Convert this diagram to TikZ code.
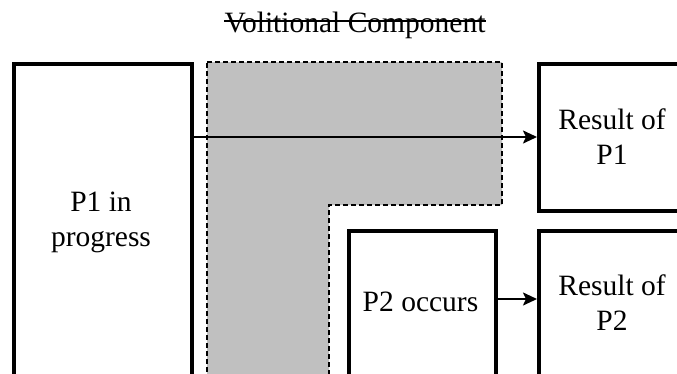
\documentclass[tikz,border=0pt]{standalone}
\usepackage{fontspec}
\setmainfont{Liberation Serif}
\usetikzlibrary{arrows.meta}
\definecolor{volgray}{RGB}{192,192,192}
\begin{document}
\begin{tikzpicture}[x=1pt,y=-1pt,
  box/.style={draw, line width=4.2pt, rectangle, inner sep=0pt, anchor=north west},
  lbl/.style={font=\fontsize{29.5}{35}\selectfont, align=center, inner sep=0pt},
  conn/.style={line width=2pt, -{Stealth[length=14pt,width=13pt,inset=3pt]}},
  vol/.style={fill=volgray, draw=black, line width=2.2pt, dash pattern=on 5pt off 3pt}]
\useasboundingbox (0,0) rectangle (677,373);
\clip (0,0) rectangle (677,373);
% volitional component region
\draw[vol] (207,62) -- (502,62) -- (502,205) -- (329,205) -- (329,390) -- (207,390) -- cycle;
% boxes
\node[box, minimum width=178pt, minimum height=330pt] (b1) at (12,62) {};
\node[box, minimum width=150pt, minimum height=147pt] (r1) at (537,62) {};
\node[box, minimum width=147pt, minimum height=170pt] (p2) at (347,229) {};
\node[box, minimum width=150pt, minimum height=170pt] (r2) at (537,229) {};
% labels
\node[lbl] (t1) at (101,222) {P1 in\\progress};
\node[lbl] (t2) at (612,137) {Result of\\P1};
\node[lbl] (t3) at (420.5,302) {P2 occurs};
\node[lbl] (t4) at (612,302.5) {Result of\\P2};
% title
\node[font=\fontsize{29.5}{35}\selectfont, inner sep=0pt, anchor=base] (title) at (355,32) {Volitional Component};
\draw[line width=1.3pt] ([yshift=11pt]title.base west) -- ([yshift=11pt]title.base east);
% connectors
\draw[conn] ([yshift=-75pt]b1.north east) -- ([yshift=-75pt]r1.north west);
\draw[conn] ([yshift=-70pt]p2.north east) -- ([yshift=-70pt]r2.north west);
\end{tikzpicture}
\end{document}
